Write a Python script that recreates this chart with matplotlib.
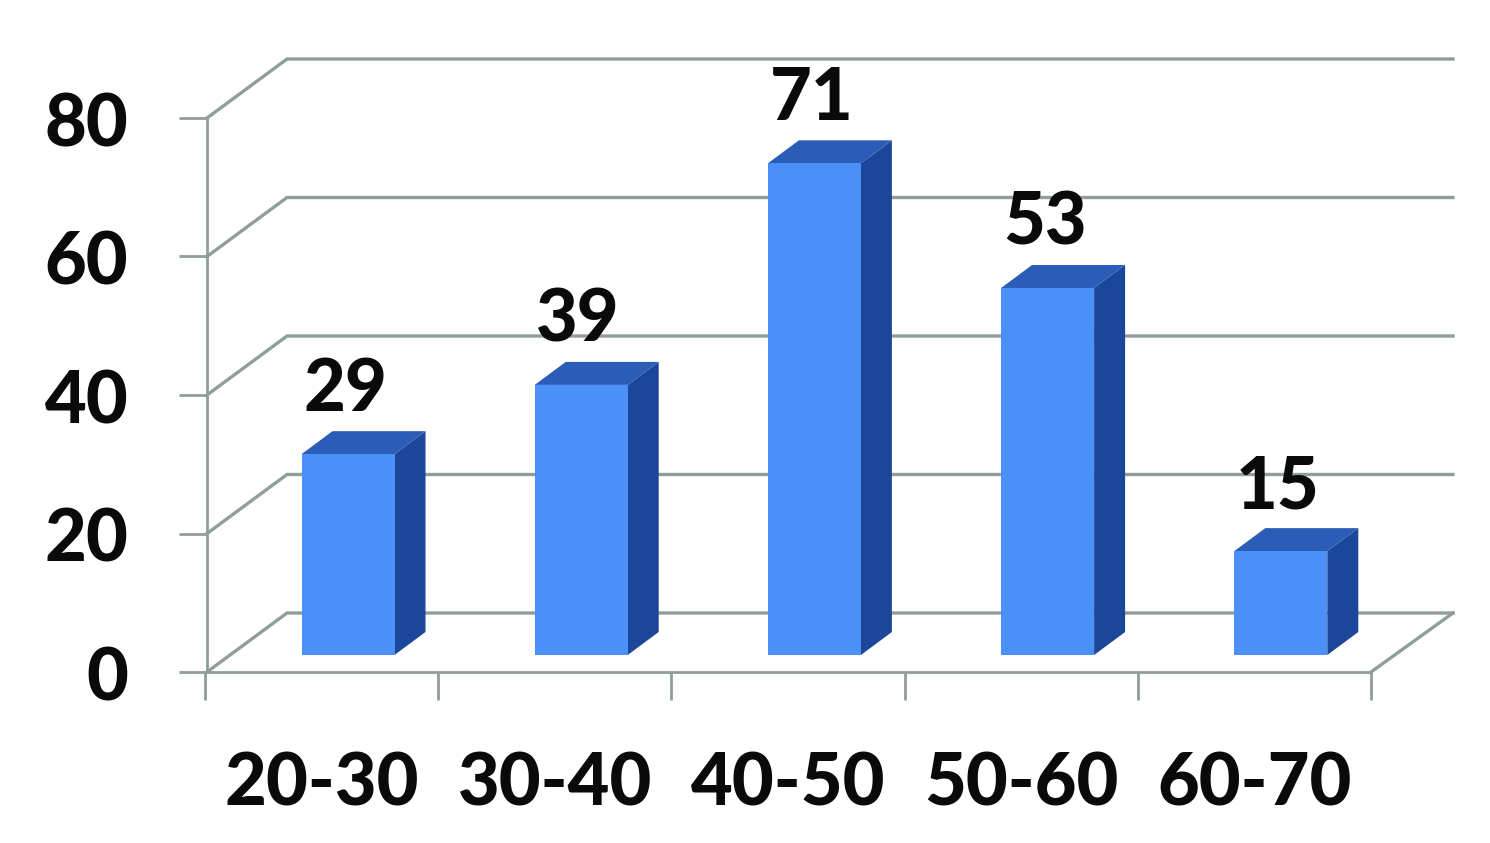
import matplotlib.pyplot as plt
from matplotlib.patches import Polygon
from matplotlib.transforms import ScaledTranslation

categories = ['20-30', '30-40', '40-50', '50-60', '60-70']
values = [29, 39, 71, 53, 15]
y_ticks = [0, 20, 40, 60, 80]

plt.rcParams['font.family'] = ['Lato', 'DejaVu Sans']

W, H = 1490, 843
fig = plt.figure(figsize=(W / 100, H / 100), dpi=100)

# front plane of the fake 3d box, in pixels
left, right, bottom, top = 205, 1371, 672, 118
ax = fig.add_axes([left / W, 1 - bottom / H, (right - left) / W, (bottom - top) / H])
ax.set_xlim(0, 5)
ax.set_ylim(0, 80)

px = 5 / (right - left)
py = 80 / (bottom - top)

grid_c = '#8f9d9b'
deep_x, deep_y = 82 * px, 59 * py  # depth of the box
txt_c = '#0a0a0a'
txt_size = 52
txt_weight = 'black'

for v in y_ticks:
    ax.plot([2 * px, deep_x, 5 + deep_x], [v, v + deep_y, v + deep_y], color=grid_c, lw=2.4,
            clip_on=False, zorder=1, solid_joinstyle='miter')
ax.plot([5, 5 + deep_x], [0, deep_y], color=grid_c, lw=2.4, clip_on=False, zorder=1)

# bars
bar_w = 93 * px
base = 17 * py
dx, dy = 31 * px, 23 * py
front_c, side_c, top_c = '#4a90f7', '#1b4699', '#2a5cb8'

for i, v in enumerate(values):
    x0 = i + 143 * px - bar_w / 2
    x1 = x0 + bar_w
    y0 = base
    y1 = base + v
    ax.add_patch(Polygon([(x1, y0), (x1 + dx, y0 + dy), (x1 + dx, y1 + dy), (x1, y1)],
                         fc=side_c, ec='none', clip_on=False, zorder=3))
    ax.add_patch(Polygon([(x0, y1), (x1, y1), (x1 + dx, y1 + dy), (x0 + dx, y1 + dy)],
                         fc=top_c, ec='none', clip_on=False, zorder=3))
    ax.add_patch(Polygon([(x0, y0), (x1, y0), (x1, y1), (x0, y1)],
                         fc=front_c, ec='none', clip_on=False, zorder=4))
    ax.text((x0 + x1) / 2 - 3 * px, y1 + dy + 7 * py, str(v), ha='center', va='bottom',
            fontsize=txt_size, fontweight=txt_weight, color=txt_c, clip_on=False, zorder=5)

for s in ['top', 'right']:
    ax.spines[s].set_visible(False)
for s in ['left', 'bottom']:
    ax.spines[s].set_color(grid_c)
    ax.spines[s].set_linewidth(2)
ax.spines['left'].set_position(('outward', -1.4))

ax.set_yticks(y_ticks)
ax.set_xticks(range(6))
ax.set_xticks([i + 0.5 for i in range(5)], minor=True)
ax.set_xticklabels([])
ax.set_xticklabels(categories, minor=True, fontsize=txt_size, fontweight=txt_weight, color=txt_c)
ax.tick_params(axis='x', which='major', length=20, width=2, color=grid_c)
ax.tick_params(axis='x', which='minor', length=0, pad=57)
ax.tick_params(axis='y', length=20, width=2, color=grid_c, labelsize=txt_size, labelcolor=txt_c, pad=36.5)

# labels sit a little below the tick in the original
shift = ScaledTranslation(0, -1 / 72, fig.dpi_scale_trans)
for lab in ax.get_yticklabels():
    lab.set_fontweight(txt_weight)
    lab.set_transform(lab.get_transform() + shift)

fig.savefig('out.png', dpi=100, facecolor='white')
